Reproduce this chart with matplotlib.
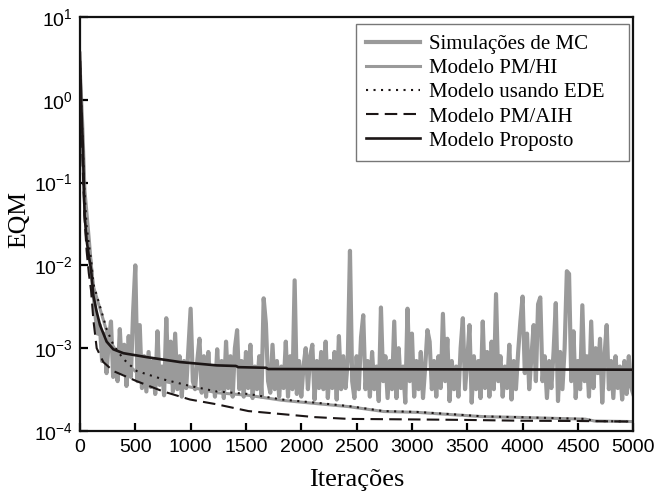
import numpy as np
import matplotlib
matplotlib.use('Agg')
import matplotlib.pyplot as plt

plt.rcParams['font.family'] = ['Liberation Sans', 'DejaVu Sans']
plt.rcParams['mathtext.fontset'] = 'custom'
plt.rcParams['mathtext.rm'] = 'Liberation Sans'

# ---- data ----
# Monte Carlo simulations (EQM in units of 1e-4), one sample every 20 iterations
mc_step = 20
mc_e4 = [
    20000, 5000, 800, 400, 200, 90, 50, 25, 15, 19,
    7, 15, 5, 12, 21, 4.5, 9, 4, 17, 5,
    11, 3.5, 14, 4.5, 27, 100, 4, 19, 3.3, 8,
    3, 9, 3.4, 7, 2.8, 16, 3.6, 6, 2.7, 23,
    4, 12, 3, 15, 3.2, 8, 2.6, 7, 3.3, 10,
    30, 4, 3.2, 7, 13, 2.9, 8, 2.6, 9, 3.2,
    6, 2.6, 9.7, 3.2, 7, 2.5, 12, 3.3, 8, 2.6,
    10, 16.5, 3.2, 7, 2.6, 9, 3.3, 11, 2.5, 6,
    3.2, 8, 2.6, 40, 20, 4, 2.9, 11, 3.2, 7,
    2.6, 6, 3.3, 12, 2.6, 8, 3.2, 66, 2.8, 7,
    2.6, 6, 10, 3.2, 8, 11, 2.4, 7, 3.3, 9,
    3.2, 12, 2.5, 7, 3.3, 9, 2.4, 14, 3.2, 8,
    3.3, 7, 150, 4, 2.5, 8, 3.2, 13.6, 25, 3.2,
    7, 2.6, 9, 3.2, 6, 2.3, 31, 4, 8, 2.5,
    7, 3.2, 21, 2.5, 10, 3.3, 6, 2.2, 30, 4,
    15, 2.6, 7, 3.2, 9, 2.5, 6, 16.5, 12, 3.2,
    7, 2.6, 8, 3.3, 26, 4, 13, 2.3, 7, 3.2,
    6, 2.6, 10, 23, 3.2, 7, 19, 2.2, 8, 3.2,
    7, 2.5, 21, 3.3, 9, 2.6, 12, 3.2, 45, 4,
    8, 2.6, 6, 3.3, 11, 2.4, 7, 3.2, 9, 21,
    42, 5, 15, 3.2, 8, 19, 4, 34, 41, 4,
    8, 2.5, 7, 3.3, 9, 35, 2.3, 9, 3.2, 10,
    85, 79, 4, 16, 2.5, 7, 3.2, 33, 4, 8,
    2.6, 21, 3.3, 10, 5, 13, 2.2, 8, 19, 3.2,
    7, 2.5, 8, 3.3, 6, 2.4, 7, 2.8, 8, 3.4,
    2.8,
]

pmhi_iter = [0, 10, 25, 40, 60, 80, 100, 121, 181, 241, 301, 392, 512, 753, 994, 1236,
             1522, 1824, 2125, 2427, 2743, 3044, 3346, 3647, 3964, 4300, 4567, 4650, 5000]
pmhi_val = [2.8, 0.9, 0.28, 0.075, 0.028, 0.017, 0.011, 5.6e-3, 3.0e-3, 1.6e-3, 1.05e-3, 7.1e-4,
            5.1e-4, 4.0e-4, 3.4e-4, 2.9e-4, 2.7e-4, 2.35e-4, 2.15e-4, 1.97e-4, 1.72e-4,
            1.68e-4, 1.58e-4, 1.49e-4, 1.46e-4, 1.42e-4, 1.39e-4, 1.32e-4, 1.3e-4]

ede_iter = [0, 10, 25, 40, 60, 80, 100, 121, 181, 241, 301, 392, 512, 753, 994, 1236,
            1522, 1824, 2125, 2427, 2743, 3044, 3346, 3647, 3964, 4300, 4567, 4650, 5000]
ede_val = [3.0, 1.0, 0.3, 0.08, 0.03, 0.018, 0.012, 6.0e-3, 3.2e-3, 1.7e-3, 1.1e-3, 7.4e-4,
           5.3e-4, 4.2e-4, 3.5e-4, 3.0e-4, 2.8e-4, 2.4e-4, 2.2e-4, 2.0e-4, 1.74e-4,
           1.7e-4, 1.6e-4, 1.5e-4, 1.47e-4, 1.43e-4, 1.4e-4, 1.32e-4, 1.3e-4]

aih_iter = [0, 10, 25, 40, 60, 80, 100, 121, 151, 211, 301, 512, 753, 994, 1236, 1522,
            1824, 2125, 2427, 3000, 3500, 4000, 4500, 5000]
aih_val = [3.0, 0.8, 0.15, 0.04, 0.015, 8e-3, 5e-3, 2.2e-3, 1.0e-3, 6.8e-4, 5.3e-4, 4.0e-4,
           3.0e-4, 2.4e-4, 2.1e-4, 1.74e-4, 1.6e-4, 1.47e-4, 1.4e-4, 1.38e-4, 1.36e-4,
           1.33e-4, 1.32e-4, 1.3e-4]

prop_iter = [0, 10, 27, 42, 60, 80, 100, 121, 150, 181, 241, 301, 392, 603, 904, 1236,
             1410, 1430, 1680, 1700, 5000]
prop_val = [3.7, 1.0, 0.25, 0.04, 0.02, 0.013, 9e-3, 4.3e-3, 2.8e-3, 1.9e-3, 1.2e-3, 9.7e-4,
            8.7e-4, 7.8e-4, 6.8e-4, 6.2e-4, 6.1e-4, 5.9e-4, 5.8e-4, 5.6e-4, 5.5e-4]

labels = ['Simulações de MC', 'Modelo PM/HI', 'Modelo usando EDE', 'Modelo PM/AIH', 'Modelo Proposto']
x_ticks = [0, 500, 1000, 1500, 2000, 2500, 3000, 3500, 4000, 4500, 5000]

# ---- figure ----
fig = plt.figure(figsize=(6.61, 4.95), dpi=100)
ax = fig.add_axes([0.121, 0.1293, 0.837, 0.8364])

mc_iter = np.arange(len(mc_e4)) * mc_step
mc_val = np.array(mc_e4) * 1e-4

gray = '#9a9a9a'
black = '#1c1616'
ax.plot(mc_iter, mc_val, color=gray, lw=3.0, label=labels[0], zorder=1)
ax.plot(pmhi_iter, pmhi_val, color=gray, lw=2.2, label=labels[1], zorder=2)
ax.plot(ede_iter, ede_val, color=black, lw=1.5, ls=(0, (1, 2.6)), label=labels[2], zorder=3)
ax.plot(aih_iter, aih_val, color=black, lw=1.5, ls=(0, (6, 3)), label=labels[3], zorder=4)
ax.plot(prop_iter, prop_val, color=black, lw=1.9, label=labels[4], zorder=5)

ax.set_yscale('log')
ax.set_ylim(1e-4, 1e1)
ax.set_xlim(0, 5000)
ax.set_xticks(x_ticks)
ax.set_xticklabels([str(v) for v in x_ticks])
ax.set_yticks([1e-4, 1e-3, 1e-2, 1e-1, 1e0, 1e1])
ax.yaxis.set_minor_locator(matplotlib.ticker.NullLocator())
ax.tick_params(axis='both', which='major', direction='in', length=6, width=1.6,
               labelsize=14, top=False, right=False)
ax.tick_params(axis='x', pad=6)
ax.tick_params(axis='y', pad=5)
for s in ax.spines.values():
    s.set_linewidth(1.6)
    s.set_color('#111111')

ax.set_xlabel('Iterações', family='Liberation Serif', fontsize=19, labelpad=9)
ax.set_ylabel('EQM', family='Liberation Serif', fontsize=18.5, labelpad=2)
ax.yaxis.set_label_coords(-0.089, 0.51)

leg = ax.legend(loc='upper left', bbox_to_anchor=(0.499, 0.0, 0.493, 0.983), mode='expand',
                prop={'family': 'Liberation Serif', 'size': 15},
                frameon=True, fancybox=False, edgecolor='#777777', framealpha=1,
                handlelength=2.55, handletextpad=0.45, labelspacing=0.22,
                borderpad=0.5, borderaxespad=0.0)
leg.get_frame().set_linewidth(1.0)

fig.savefig('out.png', dpi=100)
